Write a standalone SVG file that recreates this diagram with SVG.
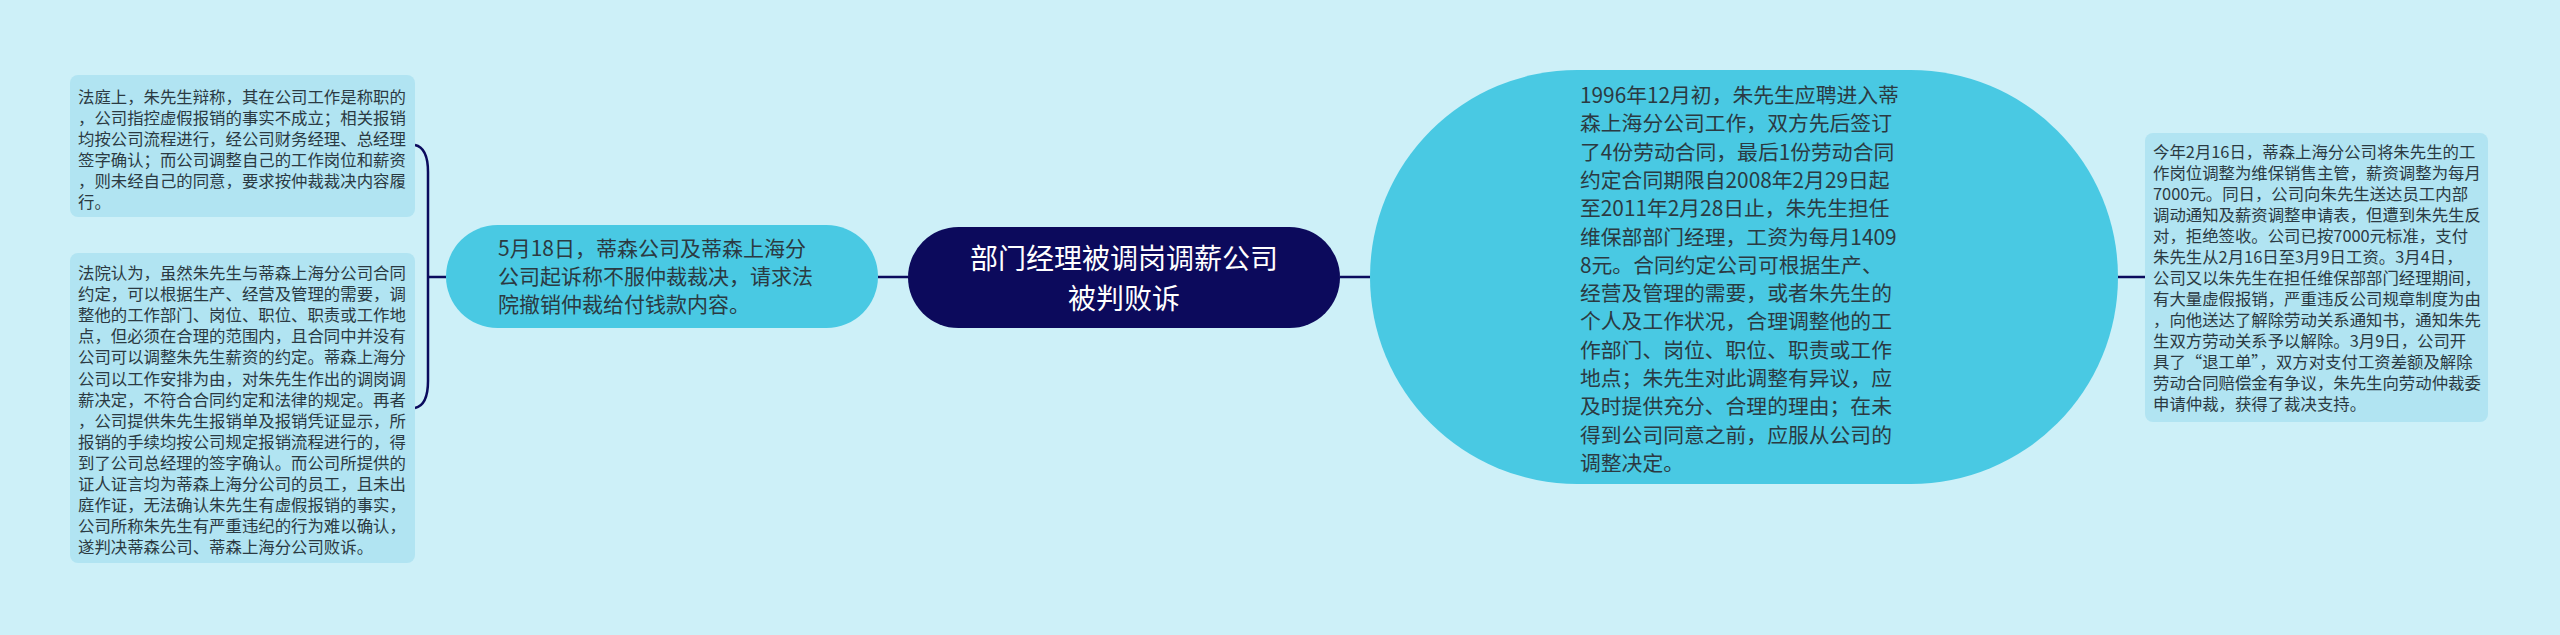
<svg xmlns="http://www.w3.org/2000/svg" width="2560" height="635" viewBox="0 0 2560 635">
<style>
.t{font-family:"Noto Sans CJK SC","Noto Sans",sans-serif;fill:#2b3a42}
.s{font-size:16.4px}
.m{font-size:21px}
.b{font-size:20.8px}
.c{font-size:28px;fill:#ffffff}
.box{fill:#b1e4f2}
.blue{fill:#49c9e3}
.con{fill:none;stroke:#0b0b5e;stroke-width:2.5}
</style>
<rect width="2560" height="635" fill="#cdf0f8"/>
<g id="connectors">
<path class="con" d="M908,277 H878"/>
<path class="con" d="M446,277 H428"/>
<path class="con" d="M415,145 C424,147 428,156 428,172 L428,381 C428,397 424,406 415,408"/>
<path class="con" d="M1340,277 H1370"/>
<path class="con" d="M2118,277 H2145"/>
</g>
<g id="center">
<rect x="908" y="227" width="432" height="101" rx="50.5" fill="#0c0a5c"/>
<text class="t c" text-anchor="middle"><tspan x="1124" y="268.5">部门经理被调岗调薪公司</tspan><tspan x="1124" y="308.5">被判败诉</tspan></text>
</g>
<g id="left-main">
<rect class="blue" x="446" y="225" width="432" height="103" rx="51.5"/>
<text class="t m"><tspan x="498" y="256">5月18日，蒂森公司及蒂森上海分</tspan><tspan x="498" y="284">公司起诉称不服仲裁裁决，请求法</tspan><tspan x="498" y="312">院撤销仲裁给付钱款内容。</tspan></text>
</g>
<g id="left-top">
<rect class="box" x="70" y="75" width="345" height="142" rx="8"/>
<text class="t s"><tspan x="78" y="103">法庭上，朱先生辩称，其在公司工作是称职的</tspan><tspan x="78" y="124">，公司指控虚假报销的事实不成立；相关报销</tspan><tspan x="78" y="145">均按公司流程进行，经公司财务经理、总经理</tspan><tspan x="78" y="166">签字确认；而公司调整自己的工作岗位和薪资</tspan><tspan x="78" y="187">，则未经自己的同意，要求按仲裁裁决内容履</tspan><tspan x="78" y="208">行。</tspan></text>
</g>
<g id="left-bottom">
<rect class="box" x="70" y="253" width="345" height="310" rx="8"/>
<text class="t s"><tspan x="78" y="279">法院认为，虽然朱先生与蒂森上海分公司合同</tspan><tspan x="78" y="300.1">约定，可以根据生产、经营及管理的需要，调</tspan><tspan x="78" y="321.2">整他的工作部门、岗位、职位、职责或工作地</tspan><tspan x="78" y="342.3">点，但必须在合理的范围内，且合同中并没有</tspan><tspan x="78" y="363.4">公司可以调整朱先生薪资的约定。蒂森上海分</tspan><tspan x="78" y="384.5">公司以工作安排为由，对朱先生作出的调岗调</tspan><tspan x="78" y="405.6">薪决定，不符合合同约定和法律的规定。再者</tspan><tspan x="78" y="426.7">，公司提供朱先生报销单及报销凭证显示，所</tspan><tspan x="78" y="447.8">报销的手续均按公司规定报销流程进行的，得</tspan><tspan x="78" y="468.9">到了公司总经理的签字确认。而公司所提供的</tspan><tspan x="78" y="490">证人证言均为蒂森上海分公司的员工，且未出</tspan><tspan x="78" y="511.1">庭作证，无法确认朱先生有虚假报销的事实，</tspan><tspan x="78" y="532.2">公司所称朱先生有严重违纪的行为难以确认，</tspan><tspan x="78" y="553.3">遂判决蒂森公司、蒂森上海分公司败诉。</tspan></text>
</g>
<g id="right-main">
<rect class="blue" x="1370" y="70" width="748" height="414" rx="207"/>
<text class="t b"><tspan x="1580" y="103">1996年12月初，朱先生应聘进入蒂</tspan><tspan x="1580" y="131.3">森上海分公司工作，双方先后签订</tspan><tspan x="1580" y="159.6">了4份劳动合同，最后1份劳动合同</tspan><tspan x="1580" y="187.9">约定合同期限自2008年2月29日起</tspan><tspan x="1580" y="216.2">至2011年2月28日止，朱先生担任</tspan><tspan x="1580" y="244.5">维保部部门经理，工资为每月1409</tspan><tspan x="1580" y="272.8">8元。合同约定公司可根据生产、</tspan><tspan x="1580" y="301.1">经营及管理的需要，或者朱先生的</tspan><tspan x="1580" y="329.4">个人及工作状况，合理调整他的工</tspan><tspan x="1580" y="357.7">作部门、岗位、职位、职责或工作</tspan><tspan x="1580" y="386">地点；朱先生对此调整有异议，应</tspan><tspan x="1580" y="414.3">及时提供充分、合理的理由；在未</tspan><tspan x="1580" y="442.6">得到公司同意之前，应服从公司的</tspan><tspan x="1580" y="470.9">调整决定。</tspan></text>
</g>
<g id="right-box">
<rect class="box" x="2145" y="133" width="343" height="289" rx="8"/>
<text class="t s"><tspan x="2153" y="158">今年2月16日，蒂森上海分公司将朱先生的工</tspan><tspan x="2153" y="179">作岗位调整为维保销售主管，薪资调整为每月</tspan><tspan x="2153" y="200">7000元。同日，公司向朱先生送达员工内部</tspan><tspan x="2153" y="221">调动通知及薪资调整申请表，但遭到朱先生反</tspan><tspan x="2153" y="242">对，拒绝签收。公司已按7000元标准，支付</tspan><tspan x="2153" y="263">朱先生从2月16日至3月9日工资。3月4日，</tspan><tspan x="2153" y="284">公司又以朱先生在担任维保部部门经理期间，</tspan><tspan x="2153" y="305">有大量虚假报销，严重违反公司规章制度为由</tspan><tspan x="2153" y="326">，向他送达了解除劳动关系通知书，通知朱先</tspan><tspan x="2153" y="347">生双方劳动关系予以解除。3月9日，公司开</tspan><tspan x="2153" y="368">具了“退工单”，双方对支付工资差额及解除</tspan><tspan x="2153" y="389">劳动合同赔偿金有争议，朱先生向劳动仲裁委</tspan><tspan x="2153" y="410">申请仲裁，获得了裁决支持。</tspan></text>
</g>
</svg>
